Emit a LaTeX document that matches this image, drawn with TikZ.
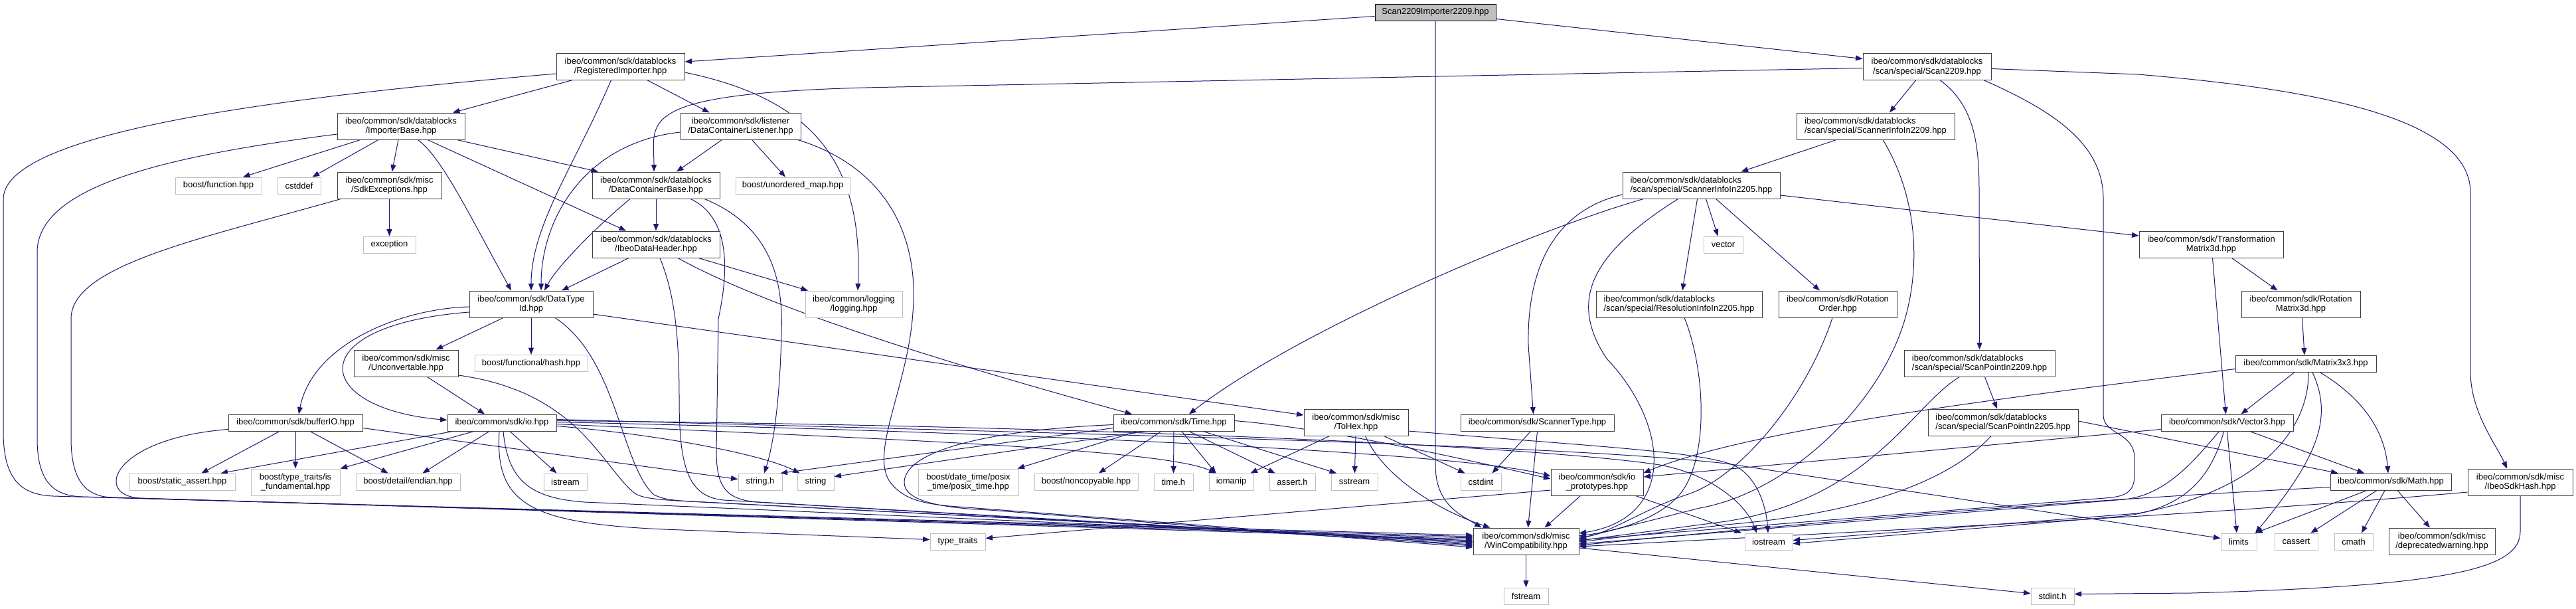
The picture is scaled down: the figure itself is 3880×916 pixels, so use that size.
\documentclass[tikz,border=0pt]{standalone}
\usepackage{fontspec}
\setmainfont{Liberation Sans}
\usetikzlibrary{arrows.meta,calc}
\definecolor{edgeblue}{HTML}{191970}
\definecolor{lgray}{HTML}{BFBFBF}
\definecolor{rootgray}{HTML}{BFBFBF}
\newcommand\nodefont{\fontsize{13}{14.5}\selectfont}
\pgfdeclarelayer{bg}
\pgfsetlayers{bg,main}
\begin{document}
\begin{tikzpicture}[x=1pt,y=-1pt,
  nb/.style={rectangle,inner sep=0pt,font=\nodefont,align=center,line width=1pt,fill=white},
  fb/.style={nb,draw=black!75},
  gb/.style={nb,draw=lgray},
  rt/.style={nb,draw=black,fill=rootgray},
  h1/.style={minimum height=25pt},
  h2/.style={minimum height=40pt},
  edg/.style={draw=edgeblue,line width=1pt,-{Triangle[length=10.5pt,width=8pt]}}]
\useasboundingbox (0,0) rectangle (3880,916);
% ---------------- nodes ----------------
\node[rt,h1,minimum width=182pt] (root) at (2162,18.5) {Scan2209Importer2209.hpp};
\node[fb,h2,minimum width=193pt] (regimp) at (934.5,100) {ibeo/common/sdk/datablocks\\/RegisteredImporter.hpp};
\node[fb,h2,minimum width=193pt] (scan2209) at (2902.5,100.5) {ibeo/common/sdk/datablocks\\/scan/special/Scan2209.hpp};
\node[fb,h2,minimum width=192pt] (impbase) at (604,190) {ibeo/common/sdk/datablocks\\/ImporterBase.hpp};
\node[fb,h2,minimum width=181pt] (dclisten) at (1115.5,190) {ibeo/common/sdk/listener\\/DataContainerListener.hpp};
\node[fb,h2,minimum width=238pt,align=left] (sinfo2209) at (2825,190) {ibeo/common/sdk/datablocks\\/scan/special/ScannerInfoIn2209.hpp};
\node[gb,h1,minimum width=130pt] (bfunc) at (329,279.5) {boost/function.hpp};
\node[gb,h1,minimum width=65pt] (cstddef) at (450.5,279.5) {cstddef};
\node[fb,h2,minimum width=157pt] (sdkexc) at (586.5,279) {ibeo/common/sdk/misc\\/SdkExceptions.hpp};
\node[fb,h2,minimum width=192pt] (dcbase) at (988,279) {ibeo/common/sdk/datablocks\\/DataContainerBase.hpp};
\node[gb,h1,minimum width=172pt] (unordmap) at (1194,279.5) {boost/unordered\_map.hpp};
\node[fb,h2,minimum width=237pt,align=left] (sinfo2205) at (2562.5,279) {ibeo/common/sdk/datablocks\\/scan/special/ScannerInfoIn2205.hpp};
\node[gb,h1,minimum width=79pt] (exception) at (586.5,368.5) {exception};
\node[fb,h2,minimum width=192pt] (ibeohdr) at (988,368) {ibeo/common/sdk/datablocks\\/IbeoDataHeader.hpp};
\node[gb,h1,minimum width=59pt] (vector) at (2595.5,368.5) {vector};
\node[fb,h2,minimum width=217pt] (transmat) at (3330.5,368) {ibeo/common/sdk/Transformation\\Matrix3d.hpp};
\node[fb,h2,minimum width=186pt] (dtid) at (800,458) {ibeo/common/sdk/DataType\\Id.hpp};
\node[gb,h2,minimum width=146pt] (logging) at (1286,458) {ibeo/common/logging\\/logging.hpp};
\node[fb,h2,minimum width=250pt,align=left] (resinfo) at (2529,458) {ibeo/common/sdk/datablocks\\/scan/special/ResolutionInfoIn2205.hpp};
\node[fb,h2,minimum width=178pt] (rotorder) at (2768,458) {ibeo/common/sdk/Rotation\\Order.hpp};
\node[fb,h2,minimum width=179pt] (rotmat) at (3465.5,458) {ibeo/common/sdk/Rotation\\Matrix3d.hpp};
\node[fb,h2,minimum width=157pt] (unconv) at (611.5,547) {ibeo/common/sdk/misc\\/Unconvertable.hpp};
\node[gb,h1,minimum width=170pt] (hash) at (800,547) {boost/functional/hash.hpp};
\node[fb,h1,minimum width=212pt] (mat3) at (3473,547.5) {ibeo/common/sdk/Matrix3x3.hpp};
\node[fb,h2,minimum width=227pt,align=left] (sp2209) at (2981.5,547) {ibeo/common/sdk/datablocks\\/scan/special/ScanPointIn2209.hpp};
\node[fb,h1,minimum width=202pt] (bufio) at (445,636.5) {ibeo/common/sdk/bufferIO.hpp};
\node[fb,h1,minimum width=164pt] (io) at (756,636.5) {ibeo/common/sdk/io.hpp};
\node[fb,h1,minimum width=182pt] (time) at (1768,636.5) {ibeo/common/sdk/Time.hpp};
\node[fb,h2,minimum width=157pt] (tohex) at (2042.5,636) {ibeo/common/sdk/misc\\/ToHex.hpp};
\node[fb,h1,minimum width=231pt] (stype) at (2315.5,636.5) {ibeo/common/sdk/ScannerType.hpp};
\node[fb,h2,minimum width=226pt,align=left] (sp2205) at (3017,636) {ibeo/common/sdk/datablocks\\/scan/special/ScanPointIn2205.hpp};
\node[fb,h1,minimum width=199pt] (vec3) at (3354.5,636.5) {ibeo/common/sdk/Vector3.hpp};
\node[gb,h1,minimum width=159pt] (sassert) at (274.5,725.5) {boost/static\_assert.hpp};
\node[gb,h2,minimum width=134pt] (isfund) at (445,726) {boost/type\_traits/is\\\_fundamental.hpp};
\node[gb,h1,minimum width=157pt] (endian) at (614.5,725.5) {boost/detail/endian.hpp};
\node[gb,h1,minimum width=65pt] (istream) at (851.5,725.5) {istream};
\node[gb,h1,minimum width=66pt] (stringh) at (1145,725.5) {string.h};
\node[gb,h1,minimum width=55pt] (string) at (1228.5,725.5) {string};
\node[gb,h2,minimum width=151pt] (posix) at (1458.5,726) {boost/date\_time/posix\\\_time/posix\_time.hpp};
\node[gb,h1,minimum width=156pt] (noncopy) at (1636,725.5) {boost/noncopyable.hpp};
\node[gb,h1,minimum width=59pt] (timeh) at (1767.5,725.5) {time.h};
\node[gb,h1,minimum width=67pt] (iomanip) at (1854.5,725.5) {iomanip};
\node[gb,h1,minimum width=69pt] (asserth) at (1946.5,725.5) {assert.h};
\node[gb,h1,minimum width=70pt] (sstream) at (2040,725.5) {sstream};
\node[gb,h1,minimum width=61pt] (cstdint) at (2230.5,725.5) {cstdint};
\node[fb,h2,minimum width=139pt] (ioproto) at (2405.5,726) {ibeo/common/sdk/io\\\_prototypes.hpp};
\node[fb,h1,minimum width=182pt] (math) at (3601,725.5) {ibeo/common/sdk/Math.hpp};
\node[fb,h2,minimum width=158pt] (sdkhash) at (3796,726) {ibeo/common/sdk/misc\\/IbeoSdkHash.hpp};
\node[gb,h1,minimum width=83pt] (typetraits) at (1442.5,815.5) {type\_traits};
\node[fb,h2,minimum width=159pt] (wincomp) at (2298.5,815) {ibeo/common/sdk/misc\\/WinCompatibility.hpp};
\node[gb,h1,minimum width=72pt] (iostream) at (2664,815.5) {iostream};
\node[gb,h1,minimum width=54pt] (limits) at (3372,815.5) {limits};
\node[gb,h1,minimum width=65pt] (cassert) at (3458.5,815.5) {cassert};
\node[gb,h1,minimum width=58pt] (cmath) at (3545,815.5) {cmath};
\node[fb,h2,minimum width=160pt] (deprec) at (3678,815) {ibeo/common/sdk/misc\\/deprecatedwarning.hpp};
\node[gb,h1,minimum width=67pt] (fstream) at (2298.5,897.5) {fstream};
\node[gb,h1,minimum width=65pt] (stdinth) at (3091.5,897.5) {stdint.h};
% ---------------- edges ----------------
\begin{pgfonlayer}{bg}
\fill[white] (0,0) rectangle (3880,916);
% root
\draw[edg] ($(root.west)+(0,6)$) -- ($(regimp.east)+(0,-7)$);
\draw[edg] ($(root.east)+(0,10)$) -- ($(scan2209.west)+(0,-12)$);
\draw[edg] (root.south) -- (2162,700) .. controls (2162,760) and (2200,775) .. ($(wincomp.north)+(-67,0)$);
% RegisteredImporter
\draw[edg] ($(regimp.south)+(-72,0)$) -- ($(impbase.north)+(78,0)$);
\draw[edg] ($(regimp.south)+(-14,0)$) .. controls (865,250) and (800,340) .. (dtid.north);
\draw[edg] ($(regimp.south)+(40,0)$) -- ($(dclisten.north)+(-47,0)$);
\draw[edg] ($(regimp.east)+(0,9)$) .. controls (1230,150) and (1300,250) .. ($(logging.north)+(6,0)$);
\draw[edg] ($(regimp.west)+(0,11)$) .. controls (500,140) and (5,190) .. (5,300) -- (5,650) .. controls (5,720) and (30,745) .. (80,747) -- ($(wincomp.west)+(0,-9)$);
% ImporterBase
\draw[edg] ($(impbase.west)+(0,12)$) .. controls (250,235) and (56,280) .. (56,380) -- (56,660) .. controls (56,725) and (80,747) .. (125,748) -- ($(wincomp.west)+(0,-7)$);
\draw[edg] ($(impbase.south)+(-61,0)$) -- ($(bfunc.north)+(37,0)$);
\draw[edg] ($(impbase.south)+(-34,0)$) -- ($(cstddef.north)+(20,0)$);
\draw[edg] ($(impbase.south)+(-4,0)$) -- ($(sdkexc.north)+(4,0)$);
\draw[edg] ($(impbase.south)+(25,0)$) .. controls (665,235) and (710,330) .. ($(dtid.north)+(-30,0)$);
\draw[edg] ($(impbase.south)+(40,0)$) -- ($(ibeohdr.north)+(-45,0)$);
\draw[edg] ($(impbase.south)+(84,0)$) -- ($(dcbase.north)+(-87,0)$);
% SdkExceptions
\draw[edg] (sdkexc) -- (exception);
\draw[edg] ($(sdkexc.south)+(-73,0)$) .. controls (300,360) and (107,400) .. (107,480) -- (107,660) .. controls (107,725) and (130,748) .. (170,749) -- ($(wincomp.west)+(0,-5)$);
% DataContainerListener
\draw[edg] ($(dclisten.south)+(-28,0)$) -- ($(dcbase.north)+(31,0)$);
\draw[edg] ($(dclisten.south)+(17,0)$) -- ($(unordmap.north)+(-11,0)$);
\draw[edg] ($(dclisten.west)+(0,9)$) .. controls (880,215) and (815,330) .. ($(dtid.north)+(15,0)$);
\draw[edg] ($(dclisten.south east)+(-5,0)$) .. controls (1330,250) and (1385,350) .. (1375,470) .. controls (1368,580) and (1310,680) .. (1340,725) .. controls (1360,752) and (1390,758) .. (1430,762) -- ($(wincomp.west)+(0,7)$);
% DataContainerBase
\draw[edg] (dcbase) -- (ibeohdr);
\draw[edg] ($(dcbase.south)+(-39,0)$) .. controls (900,340) and (840,400) .. ($(dtid.north)+(20,0)$);
\draw[edg] ($(dcbase.south)+(73,0)$) .. controls (1160,340) and (1180,420) .. (1177,500) .. controls (1175,600) and (1165,670) .. ($(stringh.north)+(6,0)$);
\draw[edg] ($(dcbase.south)+(52,0)$) .. controls (1105,330) and (1095,420) .. (1082,480) -- (1079,680) .. controls (1079,735) and (1095,752) .. (1140,756) -- ($(wincomp.west)+(0,5)$);
% IbeoDataHeader
\draw[edg] ($(ibeohdr.south)+(-41,0)$) -- ($(dtid.north)+(46,0)$);
\draw[edg] ($(ibeohdr.south)+(64,0)$) -- ($(logging.north)+(-69,0)$);
\draw[edg] ($(ibeohdr.south)+(33,0)$) .. controls (1150,460) and (1400,540) .. ($(time.north)+(-63,0)$);
\draw[edg] ($(ibeohdr.south)+(6,0)$) .. controls (1015,440) and (1023,500) .. (1023,600) .. controls (1023,700) and (1035,748) .. (1090,753) -- ($(wincomp.west)+(0,3)$);
% DataTypeId
\draw[edg] ($(dtid.south)+(-42,0)$) -- ($(unconv.north)+(45,0)$);
\draw[edg] (dtid) -- (hash);
\draw[edg] ($(dtid.west)+(0,4)$) .. controls (600,465) and (470,520) .. ($(bufio.north)+(5,0)$);
\draw[edg] ($(dtid.west)+(0,12)$) .. controls (450,490) and (470,615) .. ($(io.west)+(0,-4)$);
\draw[edg] ($(dtid.south)+(36,0)$) .. controls (930,540) and (935,700) .. (985,745) .. controls (1000,752) and (1010,753) .. (1040,755) -- ($(wincomp.west)+(0,1)$);
\draw[edg] ($(dtid.east)+(0,15)$) -- ($(tohex.west)+(0,-11)$);
% Unconvertable
\draw[edg] ($(unconv.south)+(32,0)$) -- ($(io.north)+(-26,0)$);
\draw[edg] ($(unconv.east)+(0,18)$) .. controls (870,590) and (905,700) .. (955,742) .. controls (965,750) and (990,752) .. (1020,754) -- ($(wincomp.west)+(0,1)$);
% bufferIO
\draw[edg] ($(bufio.west)+(0,10)$) .. controls (170,660) and (140,745) .. (210,750) -- ($(wincomp.west)+(0,-3)$);
\draw[edg] ($(bufio.south)+(-24,0)$) -- ($(sassert.north)+(29,0)$);
\draw[edg] (bufio) -- (isfund);
\draw[edg] ($(bufio.south)+(22,0)$) -- ($(endian.north)+(-30,0)$);
\draw[edg] ($(bufio.east)+(0,8)$) -- ($(stringh.west)+(0,-4)$);
% io
\draw[edg] ($(io.south)+(-74,0)$) -- ($(sassert.north)+(58,0)$);
\draw[edg] ($(io.south)+(-42,0)$) -- (isfund.north east);
\draw[edg] ($(io.south)+(-19,0)$) -- ($(endian.north)+(22,0)$);
\draw[edg] ($(io.south)+(12,0)$) -- ($(istream.north)+(-13,0)$);
\draw[edg] ($(io.east)+(0,5)$) .. controls (1000,655) and (1150,685) .. ($(string.north)+(-24,0)$);
\draw[edg] ($(io.south)+(-4,0)$) .. controls (745,760) and (800,788) .. (1000,797) -- ($(typetraits.west)+(0,-3)$);
\draw[edg] ($(io.south)+(2,0)$) .. controls (765,725) and (800,750) .. (880,756) -- ($(wincomp.west)+(0,-1)$);
\draw[edg] ($(io.east)+(0,2)$) .. controls (1300,660) and (1750,675) .. ($(iomanip.north)+(-23,0)$);
\draw[edg] ($(io.east)+(0,-1)$) .. controls (1500,650) and (2200,680) .. ($(ioproto.west)+(0,-9)$);
\draw[edg] ($(io.east)+(0,-3)$) .. controls (1600,640) and (2300,670) .. (2500,700) .. controls (2580,715) and (2630,760) .. ($(iostream.north)+(-18,0)$);
\draw[edg] ($(io.east)+(0,-5)$) .. controls (1700,655) and (2350,670) .. (2600,698) -- ($(limits.west)+(0,-5)$);
% Time
\draw[edg] ($(time.south)+(-55,0)$) -- ($(posix.north)+(74,0)$);
\draw[edg] ($(time.south)+(-19,0)$) -- ($(noncopy.north)+(19,0)$);
\draw[edg] (time) -- (timeh);
\draw[edg] ($(time.south)+(12,0)$) -- ($(iomanip.north)+(-23,0)$);
\draw[edg] ($(time.south)+(23,0)$) -- ($(asserth.north)+(-26,0)$);
\draw[edg] ($(time.south)+(44,0)$) -- ($(sstream.north)+(-27,0)$);
\draw[edg] ($(time.west)+(0,8)$) -- ($(stringh.north east)+(-3,0)$);
\draw[edg] ($(time.south)+(-42,0)$) -- ($(string.east)+(0,-8)$);
\draw[edg] ($(time.west)+(0,3)$) .. controls (1480,648) and (1365,680) .. (1362,725) .. controls (1360,755) and (1420,765) .. (1490,768) -- ($(wincomp.west)+(0,9)$);
\draw[edg] ($(time.east)+(0,-3)$) .. controls (2000,645) and (2200,690) .. ($(ioproto.west)+(0,-5)$);
% ToHex
\draw[edg] ($(tohex.south)+(-40,0)$) -- ($(iomanip.north)+(29,0)$);
\draw[edg] (tohex) -- (sstream);
\draw[edg] ($(tohex.south)+(42,0)$) -- ($(cstdint.north)+(-24,0)$);
\draw[edg] ($(tohex.south)+(14,0)$) .. controls (2085,720) and (2170,770) .. ($(wincomp.north)+(-54,0)$);
\draw[edg] ($(tohex.east)+(0,13)$) .. controls (2400,672) and (2560,680) .. (2610,700) .. controls (2645,715) and (2660,760) .. ($(iostream.north)+(-1,0)$);
% ScannerType
\draw[edg] ($(stype.south)+(-10,0)$) -- ($(cstdint.north)+(17,0)$);
\draw[edg] (stype.south) -- ($(wincomp.north)+(3,0)$);
% io_prototypes
\draw[edg] ($(ioproto.south)+(-25,0)$) -- ($(wincomp.north)+(28,0)$);
\draw[edg] ($(ioproto.west)+(0,12)$) -- ($(typetraits.east)+(0,-5)$);
\draw[edg] ($(ioproto.south)+(58,0)$) -- ($(iostream.north)+(-41,0)$);
% WinCompatibility
\draw[edg] (wincomp) -- (fstream);
\draw[edg] ($(wincomp.east)+(0,10)$) -- ($(stdinth.west)+(0,-4)$);
% Scan2209
\draw[edg] ($(scan2209.south)+(-17,0)$) -- ($(sinfo2209.north)+(21,0)$);
\draw[edg] ($(scan2209.west)+(0,2)$) -- (1350,131) .. controls (950,138) and (985,180) .. ($(dcbase.north)+(-3,0)$);
\draw[edg] ($(scan2209.south)+(20,0)$) .. controls (2975,160) and (2981,220) .. (2981,290) -- (sp2209.north);
\draw[edg] ($(scan2209.east)+(0,3)$) -- (3220,112) .. controls (3500,135) and (3721,180) .. (3721,290) -- (3721,560) .. controls (3721,620) and (3760,670) .. ($(sdkhash.north)+(-20,0)$);
\draw[edg] ($(scan2209.south)+(86,0)$) .. controls (3100,170) and (3168,220) .. (3168,300) -- (3168,625) .. controls (3168,655) and (3215,650) .. (3215,690) -- (3215,715) .. controls (3215,742) and (3200,748) .. (3170,750) -- ($(wincomp.east)+(0,-2)$);
% ScannerInfoIn2209
\draw[edg] ($(sinfo2209.south)+(-59,0)$) -- ($(sinfo2205.north)+(60,0)$);
\draw[edg] ($(sinfo2209.south)+(11,0)$) .. controls (2890,300) and (2890,400) .. (2872,470) .. controls (2840,600) and (2700,740) .. (2560,765) -- ($(wincomp.east)+(0,-4)$);
% ScannerInfoIn2205
\draw[edg] ($(sinfo2205.south)+(-87,0)$) .. controls (2300,350) and (1950,500) .. ($(time.north)+(23,0)$);
\draw[edg] ($(sinfo2205.west)+(0,14)$) .. controls (2330,320) and (2300,420) .. (2302,520) -- ($(stype.north)+(-6,0)$);
\draw[edg] ($(sinfo2205.south)+(-35,0)$) .. controls (2400,380) and (2360,450) .. (2420,540) .. controls (2515,640) and (2525,780) .. ($(wincomp.east)+(0,-12)$);
\draw[edg] ($(sinfo2205.south)+(-6,0)$) -- ($(resinfo.north)+(5,0)$);
\draw[edg] ($(sinfo2205.south)+(7,0)$) -- ($(vector.north)+(-8,0)$);
\draw[edg] ($(sinfo2205.south)+(22,0)$) -- ($(rotorder.north)+(-27,0)$);
\draw[edg] ($(sinfo2205.east)+(0,15)$) -- ($(transmat.west)+(0,-13)$);
% ResolutionInfo / RotationOrder
\draw[edg] ($(resinfo.south)+(8,0)$) .. controls (2570,560) and (2575,700) .. (2525,750) .. controls (2490,785) and (2430,800) .. ($(wincomp.east)+(0,-8)$);
\draw[edg] ($(rotorder.south)+(-8,0)$) .. controls (2720,600) and (2620,720) .. (2540,745) .. controls (2480,765) and (2420,805) .. ($(wincomp.east)+(0,-6)$);
% ScanPoints
\draw[edg] ($(sp2209.south)+(8,0)$) -- ($(sp2205.north)+(-9,0)$);
\draw[edg] ($(sp2209.south)+(-30,0)$) .. controls (2880,610) and (2820,750) .. (2600,785) -- ($(wincomp.east)+(0,-1)$);
\draw[edg] ($(sp2205.south)+(-18,0)$) .. controls (2950,710) and (2840,770) .. (2600,790) -- ($(wincomp.east)+(0,1)$);
\draw[edg] ($(sp2205.east)+(0,-2)$) -- ($(math.north west)+(12,0)$);
% Transformation / Rotation / Matrix
\draw[edg] ($(transmat.south)+(31,0)$) -- ($(rotmat.north)+(-35,0)$);
\draw[edg] ($(transmat.south)+(2,0)$) -- ($(vec3.north)+(-2,0)$);
\draw[edg] ($(rotmat.south)+(2,0)$) -- ($(mat3.north)+(-2,0)$);
\draw[edg] ($(mat3.south)+(-17,0)$) -- ($(vec3.north)+(21,0)$);
\draw[edg] ($(mat3.south)+(21,0)$) .. controls (3560,600) and (3592,650) .. ($(math.north)+(-4,0)$);
\draw[edg] ($(mat3.south)+(10,0)$) .. controls (3515,630) and (3490,690) .. ($(limits.north)+(25,0)$);
\draw[edg] ($(mat3.south)+(4,0)$) .. controls (3478,650) and (3400,740) .. (3220,773) -- ($(iostream.east)+(0,-2)$);
\draw[edg] ($(mat3.west)+(0,8)$) .. controls (3100,590) and (2650,640) .. ($(ioproto.east)+(0,-14)$);
% Vector3
\draw[edg] ($(vec3.south)+(34,0)$) -- ($(math.north)+(-40,0)$);
\draw[edg] (vec3.south) -- ($(limits.north)+(-3,0)$);
\draw[edg] ($(vec3.west)+(0,10)$) -- ($(ioproto.east)+(0,-8)$);
\draw[edg] ($(vec3.south)+(-12,0)$) .. controls (3300,700) and (3260,745) .. (3200,752) -- ($(wincomp.east)+(0,4)$);
\draw[edg] ($(vec3.south)+(-5,0)$) .. controls (3330,720) and (3290,765) .. (3200,777) -- ($(iostream.east)+(0,3)$);
% Math
\draw[edg] ($(math.south)+(-36,0)$) -- ($(limits.north)+(25,0)$);
\draw[edg] ($(math.south)+(-21,0)$) -- ($(cassert.north)+(22,0)$);
\draw[edg] ($(math.south)+(-9,0)$) -- ($(cmath.north)+(12,0)$);
\draw[edg] ($(math.south)+(10,0)$) -- ($(deprec.north)+(-18,0)$);
\draw[edg] ($(math.west)+(0,8)$) .. controls (3300,745) and (3000,760) .. ($(wincomp.east)+(0,6)$);
% IbeoSdkHash
\draw[edg] (sdkhash.south) -- (3796,800) .. controls (3796,855) and (3700,882) .. (3300,893) -- ($(stdinth.east)+(0,-3)$);
\draw[edg] ($(sdkhash.west)+(0,15)$) .. controls (3300,778) and (2800,800) .. ($(wincomp.east)+(0,8)$);
\end{pgfonlayer}
\end{tikzpicture}
\end{document}
